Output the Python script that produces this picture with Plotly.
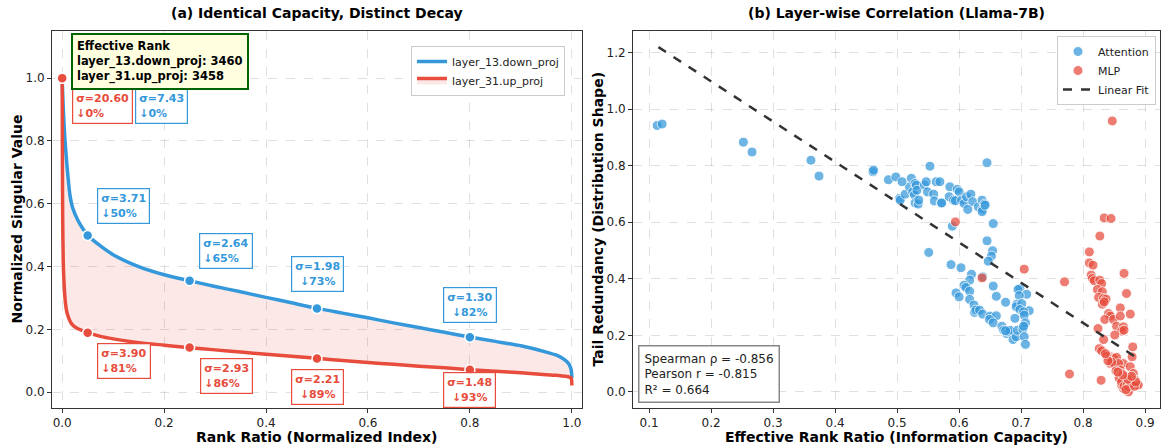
import plotly.graph_objects as go

# ---------------- Panel (a) data ----------------
rank_ratio = [0.0, 0.0005, 0.001, 0.002, 0.003, 0.005, 0.0075, 0.01, 0.015, 0.02, 0.03, 0.04, 0.05,
              0.075, 0.1, 0.15, 0.2, 0.25, 0.3, 0.35, 0.4, 0.45, 0.5, 0.55, 0.6, 0.65, 0.7, 0.75,
              0.8, 0.85, 0.9, 0.95, 0.97, 0.98, 0.99, 0.995, 0.999, 1.0]
down_proj_norm = [1.0, 0.975, 0.95, 0.91, 0.875, 0.815, 0.76, 0.71, 0.63, 0.59, 0.55, 0.522, 0.50,
                  0.466, 0.438, 0.400, 0.374, 0.355, 0.337, 0.32, 0.302, 0.285, 0.267, 0.252, 0.237,
                  0.221, 0.206, 0.191, 0.176, 0.162, 0.148, 0.128, 0.118, 0.11, 0.098, 0.088, 0.07, 0.045]
up_proj_norm = [1.0, 0.70, 0.55, 0.42, 0.37, 0.31, 0.27, 0.25, 0.228, 0.215, 0.203, 0.196, 0.19,
                0.178, 0.170, 0.158, 0.150, 0.142, 0.135, 0.128, 0.121, 0.115, 0.108, 0.101, 0.095,
                0.089, 0.083, 0.078, 0.072, 0.067, 0.062, 0.056, 0.054, 0.052, 0.05, 0.048, 0.045, 0.022]
sample_ratio = [0.0, 0.05, 0.25, 0.5, 0.8]
down_proj_sigma = [7.43, 3.71, 2.64, 1.98, 1.30]
up_proj_sigma = [20.60, 3.90, 2.93, 2.21, 1.48]
down_proj_drop = [0, 50, 65, 73, 82]
up_proj_drop = [0, 81, 86, 89, 93]
eff_rank_down = 3460
eff_rank_up = 3458
curve_names = ["layer_13.down_proj", "layer_31.up_proj"]

# ---------------- Panel (b) data ----------------
attn_x = [0.113, 0.121, 0.252, 0.266, 0.361, 0.374, 0.461, 0.462, 0.486, 0.498, 0.553, 0.645,
          0.504, 0.505, 0.513, 0.523, 0.520, 0.525, 0.528, 0.529, 0.531, 0.532, 0.529, 0.534,
          0.535, 0.544, 0.547, 0.549, 0.559, 0.560, 0.563, 0.571, 0.508, 0.551,
          0.569, 0.585, 0.597, 0.600, 0.584, 0.572, 0.591, 0.594, 0.604, 0.608, 0.612, 0.619,
          0.622, 0.614, 0.631, 0.637, 0.641, 0.638, 0.637, 0.642, 0.589, 0.655, 0.645, 0.654,
          0.652, 0.647, 0.587, 0.603, 0.620, 0.617, 0.608, 0.611, 0.617, 0.595, 0.600, 0.655,
          0.660, 0.698, 0.695, 0.709, 0.697, 0.693, 0.692, 0.701, 0.698, 0.713, 0.704, 0.705,
          0.675, 0.617, 0.624, 0.625, 0.627, 0.633, 0.638, 0.650, 0.660, 0.649, 0.655, 0.690,
          0.669, 0.672, 0.677, 0.680, 0.682, 0.687, 0.692, 0.694, 0.703, 0.707, 0.704, 0.705,
          0.707, 0.675, 0.638]
attn_y = [0.942, 0.947, 0.883, 0.848, 0.819, 0.763, 0.778, 0.784, 0.750, 0.760, 0.798, 0.810,
          0.684, 0.678, 0.699, 0.755, 0.725, 0.707, 0.696, 0.737, 0.731, 0.713, 0.668, 0.664,
          0.678, 0.731, 0.743, 0.707, 0.699, 0.675, 0.743, 0.668, 0.743, 0.493,
          0.743, 0.725, 0.716, 0.707, 0.690, 0.668, 0.678, 0.676, 0.678, 0.666, 0.690, 0.699,
          0.672, 0.645, 0.654, 0.678, 0.664, 0.645, 0.637, 0.660, 0.586, 0.595, 0.534, 0.499,
          0.480, 0.462, 0.450, 0.439, 0.416, 0.395, 0.377, 0.369, 0.356, 0.350, 0.336, 0.374,
          0.338, 0.365, 0.362, 0.345, 0.340, 0.310, 0.301, 0.312, 0.291, 0.287, 0.283, 0.271,
          0.317, 0.327, 0.307, 0.281, 0.289, 0.289, 0.275, 0.268, 0.269, 0.256, 0.244, 0.260,
          0.232, 0.218, 0.206, 0.212, 0.218, 0.185, 0.195, 0.218, 0.222, 0.244, 0.232, 0.195,
          0.168, 0.216, 0.407]
mlp_x = [0.594, 0.705, 0.637, 0.847, 0.834, 0.845, 0.827, 0.810, 0.810, 0.816, 0.770, 0.813,
         0.815, 0.818, 0.827, 0.830, 0.866, 0.823, 0.831, 0.870, 0.825, 0.833, 0.837, 0.831,
         0.834, 0.860, 0.841, 0.844, 0.835, 0.849, 0.860, 0.876, 0.854, 0.865, 0.862, 0.866,
         0.851, 0.824, 0.833, 0.880, 0.826, 0.830, 0.844, 0.849, 0.854, 0.838, 0.865, 0.879,
         0.844, 0.852, 0.857, 0.860, 0.853, 0.862, 0.876, 0.881, 0.870, 0.865, 0.868, 0.873,
         0.879, 0.884, 0.887, 0.870, 0.876, 0.873, 0.865, 0.862, 0.879, 0.881, 0.889, 0.778,
         0.829, 0.868, 0.859, 0.858, 0.862, 0.866, 0.871, 0.874, 0.877, 0.869, 0.883, 0.885,
         0.872, 0.878, 0.864, 0.856, 0.846, 0.840, 0.836]
mlp_y = [0.601, 0.434, 0.403, 0.958, 0.615, 0.613, 0.551, 0.495, 0.456, 0.448, 0.389, 0.413,
         0.401, 0.393, 0.395, 0.383, 0.419, 0.362, 0.354, 0.348, 0.334, 0.330, 0.328, 0.310,
         0.318, 0.297, 0.277, 0.268, 0.256, 0.256, 0.268, 0.275, 0.232, 0.230, 0.215, 0.218,
         0.201, 0.224, 0.185, 0.159, 0.153, 0.145, 0.124, 0.118, 0.122, 0.126, 0.100, 0.124,
         0.100, 0.094, 0.100, 0.077, 0.074, 0.065, 0.089, 0.065, 0.053, 0.041, 0.030, 0.036,
         0.047, 0.041, 0.027, 0.015, 0.012, 0.000, 0.012, 0.024, 0.024, 0.032, 0.024, 0.063,
         0.041, 0.053, 0.056, 0.048, 0.035, 0.020, 0.025, 0.018, 0.030, 0.008, 0.020, 0.035,
         0.045, 0.055, 0.060, 0.070, 0.105, 0.110, 0.135]
fit_x = [0.115, 0.884]
fit_y = [1.219, 0.124]
spearman_rho = -0.856
pearson_r = -0.815
r_squared = 0.664

# ---------------- styling ----------------
BLUE = "#3498db"
RED = "#e74c3c"
FONT = "DejaVu Sans"
W, H = 1161, 448

# label box positions (data coords) and alignment for panel (a)
down_label_pos = [(0.195, 0.91, "left"), (0.121, 0.592, "left"), (0.322, 0.449, "left"),
                  (0.501, 0.375, "center"), (0.80, 0.277, "center")]
up_label_pos = [(0.079, 0.91, "left"), (0.121, 0.099, "left"), (0.322, 0.051, "left"),
                (0.501, 0.016, "center"), (0.80, 0.006, "center")]

fig = go.Figure()

# Panel (a) curves
fig.add_trace(go.Scatter(x=rank_ratio, y=down_proj_norm, mode="lines", name=curve_names[0],
                         line=dict(color=BLUE, width=3.5, shape="spline", smoothing=0.6),
                         xaxis="x", yaxis="y", legend="legend"))
fig.add_trace(go.Scatter(x=rank_ratio, y=up_proj_norm, mode="lines", name=curve_names[1],
                         line=dict(color=RED, width=3.5, shape="spline", smoothing=0.6),
                         fill="tonexty", fillcolor="rgba(231,76,60,0.12)",
                         xaxis="x", yaxis="y", legend="legend"))

down_pts = [s / down_proj_sigma[0] for s in down_proj_sigma]
up_pts = [s / up_proj_sigma[0] for s in up_proj_sigma]
fig.add_trace(go.Scatter(x=sample_ratio, y=down_pts, mode="markers", showlegend=False,
                         marker=dict(color=BLUE, size=10, line=dict(color="white", width=1.5)),
                         xaxis="x", yaxis="y"))
fig.add_trace(go.Scatter(x=sample_ratio, y=up_pts, mode="markers", showlegend=False,
                         marker=dict(color=RED, size=10, line=dict(color="white", width=1.5)),
                         xaxis="x", yaxis="y"))

annotations = []
for sig, drop, (lx, ly, al) in zip(down_proj_sigma, down_proj_drop, down_label_pos):
    annotations.append(dict(x=lx, y=ly, xref="x", yref="y", showarrow=False,
                            text=f"<b>σ={sig:.2f}<br>↓{drop}%</b>", align=al,
                            font=dict(family=FONT, size=11, color=BLUE),
                            bgcolor="rgba(255,255,255,0.9)", bordercolor=BLUE,
                            borderwidth=1.2, borderpad=3))
for sig, drop, (lx, ly, al) in zip(up_proj_sigma, up_proj_drop, up_label_pos):
    annotations.append(dict(x=lx, y=ly, xref="x", yref="y", showarrow=False,
                            text=f"<b>σ={sig:.2f}<br>↓{drop}%</b>", align=al,
                            font=dict(family=FONT, size=11, color=RED),
                            bgcolor="rgba(255,255,255,0.9)", bordercolor=RED,
                            borderwidth=1.2, borderpad=3))

# Effective rank box
annotations.append(dict(x=71 / W, y=1 - 33 / H, xref="paper", yref="paper", xanchor="left",
                        yanchor="top", showarrow=False, align="left",
                        text=(f"<b>Effective Rank<br>{curve_names[0]}: {eff_rank_down}"
                              f"<br>{curve_names[1]}: {eff_rank_up}</b>"),
                        font=dict(family=FONT, size=11.5, color="black"),
                        bgcolor="#ffffe0", bordercolor="#006400", borderwidth=2, borderpad=4))

# Panel (b) scatter
fig.add_trace(go.Scatter(x=attn_x, y=attn_y, mode="markers", name="Attention",
                         marker=dict(color=BLUE, size=10, opacity=0.72,
                                     line=dict(color="white", width=1)),
                         xaxis="x2", yaxis="y2", legend="legend2"))
fig.add_trace(go.Scatter(x=mlp_x, y=mlp_y, mode="markers", name="MLP",
                         marker=dict(color=RED, size=10, opacity=0.72,
                                     line=dict(color="white", width=1)),
                         xaxis="x2", yaxis="y2", legend="legend2"))
fig.add_trace(go.Scatter(x=fit_x, y=fit_y, mode="lines", name="Linear Fit",
                         line=dict(color="#333333", width=2.5, dash="dash"),
                         xaxis="x2", yaxis="y2", legend="legend2"))

annotations.append(dict(x=638 / W, y=1 - 403 / H, xref="paper", yref="paper", xanchor="left",
                        yanchor="bottom", showarrow=False, align="left",
                        text=(f"Spearman ρ = {spearman_rho:.3f}<br>Pearson r = {pearson_r:.3f}"
                              f"<br>R² = {r_squared:.3f}"),
                        font=dict(family=FONT, size=12, color="#222"),
                        bgcolor="white", bordercolor="#888888", borderwidth=1.5, borderpad=5))

# Titles and axis titles
dom_a = [52 / W, 582 / W]
dom_b = [633 / W, 1160 / W]
dom_y = [1 - 408 / H, 1 - 31 / H]
titles = [("(a) Identical Capacity, Distinct Decay", (dom_a[0] + dom_a[1]) / 2),
          ("(b) Layer-wise Correlation (Llama-7B)", (dom_b[0] + dom_b[1]) / 2)]
for t, cx in titles:
    annotations.append(dict(x=cx, y=1 - 13 / H, xref="paper", yref="paper", showarrow=False,
                            text=f"<b>{t}</b>", font=dict(family=FONT, size=14, color="black"),
                            xanchor="center", yanchor="middle"))
xtitles = [("Rank Ratio (Normalized Index)", (dom_a[0] + dom_a[1]) / 2),
           ("Effective Rank Ratio (Information Capacity)", (dom_b[0] + dom_b[1]) / 2)]
for t, cx in xtitles:
    annotations.append(dict(x=cx, y=1 - 437 / H, xref="paper", yref="paper", showarrow=False,
                            text=f"<b>{t}</b>", font=dict(family=FONT, size=14, color="black"),
                            xanchor="center", yanchor="middle"))
ytitles = [("Normalized Singular Value", 16 / W), ("Tail Redundancy (Distribution Shape)", 597 / W)]
for t, cx in ytitles:
    annotations.append(dict(x=cx, y=(dom_y[0] + dom_y[1]) / 2, xref="paper", yref="paper",
                            showarrow=False, textangle=-90, text=f"<b>{t}</b>",
                            font=dict(family=FONT, size=14, color="black"),
                            xanchor="center", yanchor="middle"))

axis_common = dict(showline=True, linecolor="#333333", linewidth=1, mirror=True,
                   showgrid=True, gridcolor="rgba(0,0,0,0.12)", griddash="dash", gridwidth=0.8,
                   zeroline=False, ticks="outside", ticklen=4, tickcolor="#333333",
                   tickfont=dict(family=FONT, size=12, color="#222"))

fig.update_layout(
    width=W, height=H, margin=dict(l=0, r=0, t=0, b=0),
    paper_bgcolor="white", plot_bgcolor="white",
    font=dict(family=FONT),
    xaxis=dict(domain=dom_a, range=[-0.02, 1.02], tickvals=[0, 0.2, 0.4, 0.6, 0.8, 1.0],
               ticktext=["0.0", "0.2", "0.4", "0.6", "0.8", "1.0"], anchor="y", **axis_common),
    yaxis=dict(domain=dom_y, range=[-0.05, 1.15], tickvals=[0, 0.2, 0.4, 0.6, 0.8, 1.0],
               ticktext=["0.0", "0.2", "0.4", "0.6", "0.8", "1.0"], anchor="x", **axis_common),
    xaxis2=dict(domain=dom_b, range=[0.074, 0.924],
                tickvals=[0.1, 0.2, 0.3, 0.4, 0.5, 0.6, 0.7, 0.8, 0.9], anchor="y2", **axis_common),
    yaxis2=dict(domain=dom_y, range=[-0.057, 1.276], tickvals=[0, 0.2, 0.4, 0.6, 0.8, 1.0, 1.2],
                ticktext=["0.0", "0.2", "0.4", "0.6", "0.8", "1.0", "1.2"], anchor="x2",
                **axis_common),
    legend=dict(x=565 / W, y=1 - 46 / H, xanchor="right", yanchor="top", traceorder="normal",
                bgcolor="rgba(255,255,255,0.9)", bordercolor="#cccccc", borderwidth=1,
                font=dict(family=FONT, size=11, color="#222"), tracegroupgap=0),
    legend2=dict(x=1156 / W, y=1 - 36 / H, xanchor="right", yanchor="top", traceorder="normal",
                 bgcolor="rgba(255,255,255,0.9)", bordercolor="#cccccc", borderwidth=1,
                 font=dict(family=FONT, size=11, color="#222"), tracegroupgap=0),
    annotations=annotations,
)

fig.write_html("out.html")
